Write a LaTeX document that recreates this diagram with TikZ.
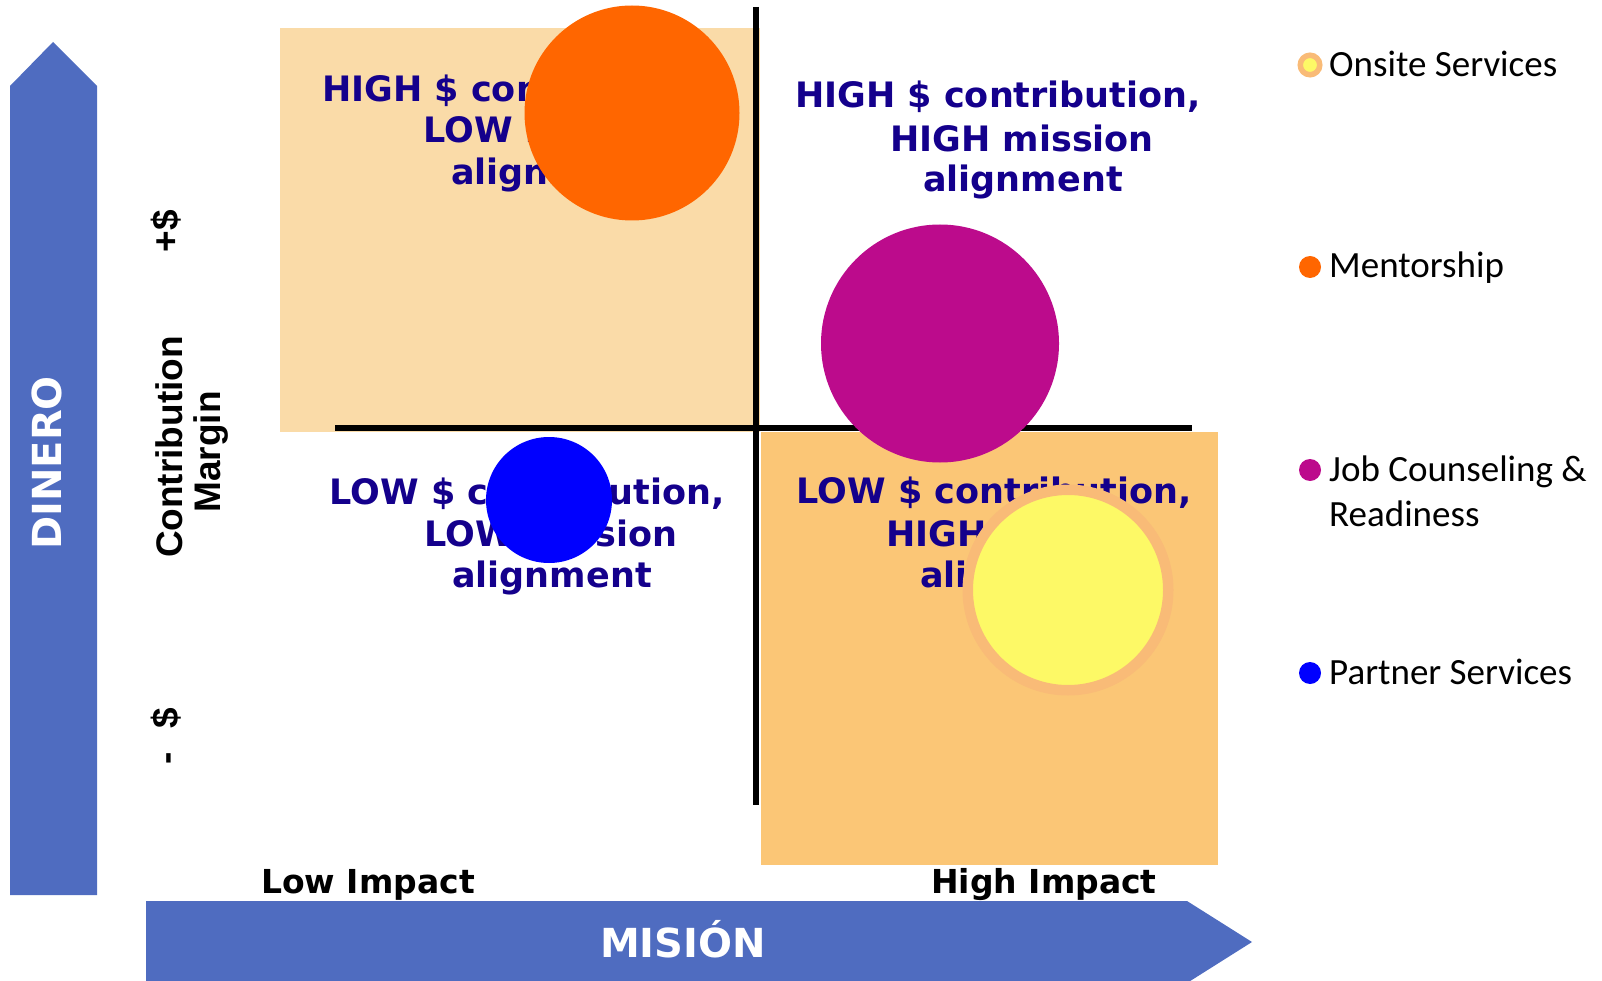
\documentclass[tikz,border=0pt]{standalone}
\usepackage{fontspec}
\newfontfamily\dv{DejaVu Sans}
\newfontfamily\lib{Liberation Sans}
\newfontfamily\carl{Carlito}
\definecolor{arrowblue}{RGB}{79,108,192}
\definecolor{peachA}{RGB}{250,219,168}
\definecolor{peachB}{RGB}{251,198,118}
\definecolor{orangeC}{RGB}{255,102,0}
\definecolor{magC}{RGB}{188,11,140}
\definecolor{blueC}{RGB}{0,0,255}
\definecolor{yellowC}{RGB}{253,249,102}
\definecolor{ringC}{RGB}{249,187,119}
\definecolor{navyT}{RGB}{20,0,140}
\tikzset{
  qtext/.style={text=navyT, font=\dv\bfseries\fontsize{35}{41}\selectfont, inner sep=0, anchor=base},
  axlabel/.style={text=black, font=\dv\bfseries\fontsize{33}{40}\selectfont, inner sep=0, anchor=base},
  cmlabel/.style={text=black, font=\lib\bfseries\fontsize{37}{44}\selectfont, inner sep=0, anchor=base, rotate=90},
  arrowlabel/.style={text=white, font=\dv\bfseries\fontsize{40}{46}\selectfont, inner sep=0, anchor=base},
  legtext/.style={text=black, font=\carl\fontsize{37}{45}\selectfont, inner sep=0, anchor=base west},
  axisline/.style={line width=5.5pt, black},
}
\begin{document}
\begin{tikzpicture}[x=1pt,y=-1pt]
\useasboundingbox (0,0) rectangle (1602,981);
% arrows
\fill[arrowblue] (10,895) -- (10,86) -- (53,42) -- (97,86) -- (97,895) -- cycle;
\fill[arrowblue] (146,901) -- (1187,901) -- (1252,942) -- (1187,983) -- (146,983) -- cycle;
\node[arrowlabel, rotate=90, anchor=center] (dinero) at (47,463) {DINERO};
\node[arrowlabel] (mision) at (683,957) {MISIÓN};
% quadrant boxes
\fill[peachA] (280,28) rectangle (760,432);
\fill[peachB] (761,432) rectangle (1218,865);
% axes
\coordinate (vtop) at (756,7);
\coordinate (vbot) at (756,805);
\coordinate (hleft) at (335,428);
\coordinate (hright) at (1192,428);
\draw[axisline] (vtop) -- (vbot);
\draw[axisline] (hleft) -- (hright);
% quadrant texts
\node[qtext] (tl1) at (525,102) {HIGH \$ contribution,};
\node[qtext] (tl2) at (550,143) {LOW mission};
\node[qtext] (tl3) at (551,185) {alignment};
\node[qtext] (tr1) at (998,108) {HIGH \$ contribution,};
\node[qtext] (tr2) at (1022,152) {HIGH mission};
\node[qtext] (tr3) at (1023,192) {alignment};
\node[qtext] (bl1) at (527,504) {LOW \$ contribution,};
\node[qtext] (bl2) at (551,546) {LOW mission};
\node[qtext] (bl3) at (552,587) {alignment};
\node[qtext] (br1) at (994,503) {LOW \$ contribution,};
\node[qtext] (br2) at (1018,546) {HIGH mission};
\node[qtext] (br3) at (1020,587) {alignment};
% bubbles
\fill[orangeC] (632,113) circle (107.5);
\fill[magC] (940,343.5) circle (119);
\fill[blueC] (549,500) circle (63);
\draw[ringC, line width=10.5pt, fill=yellowC] (1068,590) circle (100.25);
% axis labels
\node[cmlabel] (plus) at (178,231) {+\$};
\node[cmlabel] (minus) at (178,736) {-\hspace{24pt}\$};
\node[cmlabel] (cm1) at (182,447) {Contribution};
\node[cmlabel] (cm2) at (220,452) {Margin};
\node[axlabel] (low) at (368,893) {Low Impact};
\node[axlabel] (high) at (1044,893) {High Impact};
% legend
\draw[ringC, line width=5.5pt, fill=yellowC] (1310,65) circle (9.75);
\fill[orangeC] (1310,267) circle (11);
\fill[magC] (1310,470) circle (11);
\fill[blueC] (1310,673) circle (11);
\node[legtext] (lg1) at (1329,77) {Onsite Services};
\node[legtext] (lg2) at (1329,278) {Mentorship};
\node[legtext] (lg3) at (1329,481) {Job Counseling \&};
\node[legtext] (lg3b) at (1329,526) {Readiness};
\node[legtext] (lg4) at (1329,684) {Partner Services};
\end{tikzpicture}
\end{document}
